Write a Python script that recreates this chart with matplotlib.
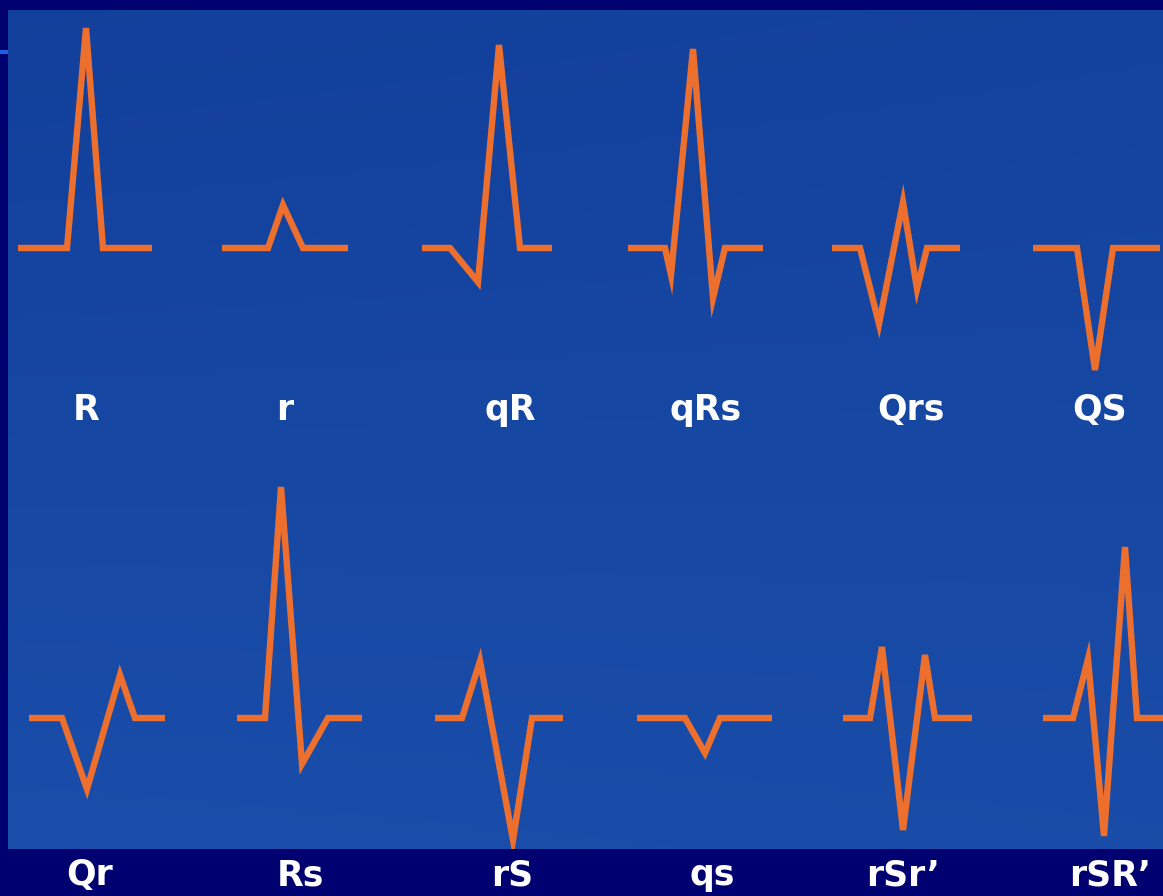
import numpy as np
import matplotlib
matplotlib.use("Agg")
import matplotlib.pyplot as plt
from matplotlib.patches import Rectangle

# ---- data (pixel-space vertices of each QRS complex) ----
labels_row1 = ["R", "r", "qR", "qRs", "Qrs", "QS"]
labels_row2 = ["Qr", "Rs", "rS", "qs", "rSr\u2019", "rSR\u2019"]

wave_R_x = [18, 67, 86, 103, 152]
wave_R_y = [248, 248, 28, 248, 248]
wave_r_x = [222, 268, 283, 303, 348]
wave_r_y = [248, 248, 205, 248, 248]
wave_qR_x = [422, 450, 478, 499, 520, 552]
wave_qR_y = [248, 248, 282, 45, 248, 248]
wave_qRs_x = [628, 665, 671, 693, 713, 725, 763]
wave_qRs_y = [248, 248, 275, 49, 298, 248, 248]
wave_Qrs_x = [832, 860, 879, 903, 917, 927, 960]
wave_Qrs_y = [248, 248, 324, 202, 289, 248, 248]
wave_QS_x = [1033, 1077, 1095, 1113, 1160]
wave_QS_y = [248, 248, 370, 248, 248]

wave_Qr_x = [29, 62, 87, 120, 135, 165]
wave_Qr_y = [718, 718, 789, 675, 718, 718]
wave_Rs_x = [237, 265, 281, 302, 328, 362]
wave_Rs_y = [718, 718, 487, 764, 718, 718]
wave_rS_x = [435, 462, 480, 513, 532, 563]
wave_rS_y = [718, 718, 661, 840, 718, 718]
wave_qs_x = [637, 685, 705, 720, 772]
wave_qs_y = [718, 718, 753, 718, 718]
wave_rSr_x = [843, 870, 882, 903, 925, 935, 972]
wave_rSr_y = [718, 718, 647, 830, 655, 718, 718]
wave_rSR_x = [1043, 1073, 1088, 1104, 1125, 1137, 1170]
wave_rSR_y = [718, 718, 659, 836, 547, 718, 718]

label_row1_x = [86, 285, 510, 706, 911, 1100]
label_row1_y = 410
label_row2_x = [90, 300, 512, 712, 903, 1110]
label_row2_y = 875

waves = [
    (wave_R_x, wave_R_y), (wave_r_x, wave_r_y), (wave_qR_x, wave_qR_y),
    (wave_qRs_x, wave_qRs_y), (wave_Qrs_x, wave_Qrs_y), (wave_QS_x, wave_QS_y),
    (wave_Qr_x, wave_Qr_y), (wave_Rs_x, wave_Rs_y), (wave_rS_x, wave_rS_y),
    (wave_qs_x, wave_qs_y), (wave_rSr_x, wave_rSr_y), (wave_rSR_x, wave_rSR_y),
]

W, H = 1163, 896
NAVY = "#000070"
ORANGE = "#EC6F2D"

fig = plt.figure(figsize=(W / 100, H / 100), dpi=100)
fig.patch.set_facecolor(NAVY)
ax = fig.add_axes([0, 0, 1, 1])
ax.set_xlim(0, W)
ax.set_ylim(H, 0)
ax.axis("off")
ax.set_facecolor(NAVY)

# blue picture area with gentle gradient
x0, y0, x1, y1 = 8, 10, W, 849
gx = np.linspace(0, 1, 200)
gy = np.linspace(0, 1, 160)
GX, GY = np.meshgrid(gx, gy)
c_top = np.array([0.07, 0.25, 0.61])
c_bot = np.array([0.11, 0.32, 0.68])
t = np.clip(0.55 * GY + 0.25 * (1 - GX) * GY + 0.15 * GX, 0, 1)[..., None]
img = c_top * (1 - t) + c_bot * t
ax.imshow(img, extent=(x0, x1, y1, y0), aspect="auto", zorder=0, interpolation="bilinear")
ax.add_patch(Rectangle((0, 50), 8, 4, color="#2060E0", zorder=1, lw=0))

clip = Rectangle((x0, y0), x1 - x0, y1 - y0, transform=ax.transData)
for xs, ys in waves:
    ln, = ax.plot(xs, ys, color=ORANGE, lw=4.6, solid_joinstyle="miter",
                  solid_capstyle="butt", zorder=3)
    ln.set_clip_path(clip)

for lx, lab in zip(label_row1_x, labels_row1):
    ax.text(lx, label_row1_y, lab, color="white", fontsize=25, fontweight="bold",
            family="DejaVu Sans", ha="center", va="center", zorder=4)
for lx, lab in zip(label_row2_x, labels_row2):
    ax.text(lx, label_row2_y, lab, color="white", fontsize=25, fontweight="bold",
            family="DejaVu Sans", ha="center", va="center", zorder=4)

fig.savefig("out.png", dpi=100, facecolor=NAVY)
